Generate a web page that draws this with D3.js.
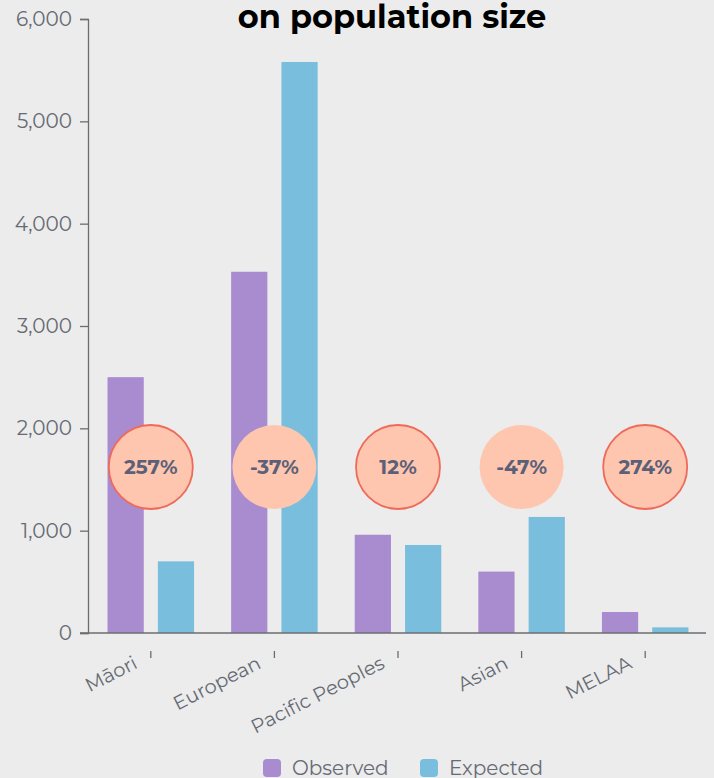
<!DOCTYPE html>
<html>
<head>
<meta charset="utf-8">
<script src="https://cdn.jsdelivr.net/npm/d3@7"></script>
<style>
  html, body { margin: 0; padding: 0; background: #ebeceb; }
  svg { display: block; }
</style>
</head>
<body>
<svg id="chart" width="714" height="778"></svg>
<script>
// Ethnic groups and counts
const categories = ["Māori", "European", "Pacific Peoples", "Asian", "MELAA"];
const observed = [2500, 3530, 960, 600, 205];
const expected = [700, 5580, 860, 1134, 55];
const differenceLabels = ["257%", "-37%", "12%", "-47%", "274%"];
const seriesNames = ["Observed", "Expected"];
const yTicks = [0, 1000, 2000, 3000, 4000, 5000, 6000];

const colors = { Observed: "#a98bd0", Expected: "#79bedd" };
const textColor = "#666a74";

const svg = d3.select("#chart");
const font = "Montserrat, Lato, 'Open Sans', sans-serif";

const plotLeft = 88, plotTop = 19;
const plotBottom = 633;

const x = d3.scaleBand().domain(categories).range([plotLeft + 1, 707]).paddingInner(0.3).paddingOuter(0.15);
const xSeries = d3.scaleBand().domain(seriesNames).range([0, x.bandwidth()]).paddingInner(0.28);
const y = d3.scaleLinear().domain([0, 6000]).range([plotBottom, plotTop]);

// Title (second line of the heading)
svg.append("text")
  .attr("x", 392).attr("y", 28)
  .attr("text-anchor", "middle")
  .attr("font-family", font)
  .attr("font-weight", 700)
  .attr("font-size", 32)
  .attr("fill", "#000")
  .text("on population size");

// Y axis
const yAxis = svg.append("g")
  .attr("transform", `translate(${plotLeft},0)`)
  .call(d3.axisLeft(y).tickValues(yTicks).tickFormat(d3.format(",")).tickSize(8).tickPadding(8));
yAxis.select(".domain").attr("stroke", "#6b6e70").attr("stroke-width", 1.3);
yAxis.selectAll(".tick line").attr("stroke", "#6b6e70").attr("stroke-width", 1.3);
yAxis.selectAll(".tick text")
  .attr("font-family", font).attr("font-size", 20).attr("fill", textColor);

// Bars
const groups = svg.append("g").selectAll("g")
  .data(categories)
  .join("g")
  .attr("transform", d => `translate(${x(d)},0)`);

groups.each(function(cat, i) {
  const vals = [observed[i], expected[i]];
  d3.select(this).selectAll("rect")
    .data(seriesNames.map((s, j) => ({ s, v: vals[j] })))
    .join("rect")
    .attr("x", d => xSeries(d.s))
    .attr("y", d => y(d.v))
    .attr("width", xSeries.bandwidth())
    .attr("height", d => plotBottom - y(d.v))
    .attr("fill", d => colors[d.s]);
});

// X axis baseline
svg.append("line")
  .attr("x1", 80).attr("x2", 706)
  .attr("y1", plotBottom).attr("y2", plotBottom)
  .attr("stroke", "#6b6e70").attr("stroke-width", 1.3);

// X axis ticks and rotated labels
const xAxis = svg.append("g")
  .attr("transform", `translate(0,${plotBottom + 18})`)
  .call(d3.axisBottom(x).tickSize(7).tickPadding(4));
xAxis.select(".domain").remove();
xAxis.selectAll(".tick line").attr("stroke", "#6b6e70").attr("stroke-width", 1.3);
xAxis.selectAll(".tick text")
  .attr("font-family", font).attr("font-size", 19.5).attr("fill", textColor)
  .attr("text-anchor", "end")
  .attr("transform", "translate(-25,-9) rotate(-27)")
  .attr("dy", "0.9em");

// Percentage difference badges
const badgeY = 467;
const badges = svg.append("g").selectAll("g")
  .data(categories)
  .join("g")
  .attr("transform", d => `translate(${x(d) + x.bandwidth() / 2},${badgeY})`);
badges.append("circle")
  .attr("r", 42)
  .attr("fill", "#fec6ae")
  .attr("stroke", (d, i) => differenceLabels[i].startsWith("-") ? "none" : "#ef6a5a")
  .attr("stroke-width", 1.8);
badges.append("text")
  .attr("text-anchor", "middle")
  .attr("dy", "0.36em")
  .attr("font-family", font)
  .attr("font-weight", 700)
  .attr("font-size", 20)
  .attr("fill", "#5b6078")
  .text((d, i) => differenceLabels[i]);

// Legend
const legend = svg.append("g").attr("transform", "translate(263,759)");
const legendItems = legend.selectAll("g")
  .data(seriesNames)
  .join("g")
  .attr("transform", (d, i) => `translate(${i * 157},0)`);
legendItems.append("rect")
  .attr("width", 18).attr("height", 18).attr("rx", 4)
  .attr("fill", d => colors[d]);
legendItems.append("text")
  .attr("x", 29).attr("y", 16)
  .attr("font-family", font).attr("font-size", 20).attr("fill", textColor)
  .text(d => d);
</script>
</body>
</html>
